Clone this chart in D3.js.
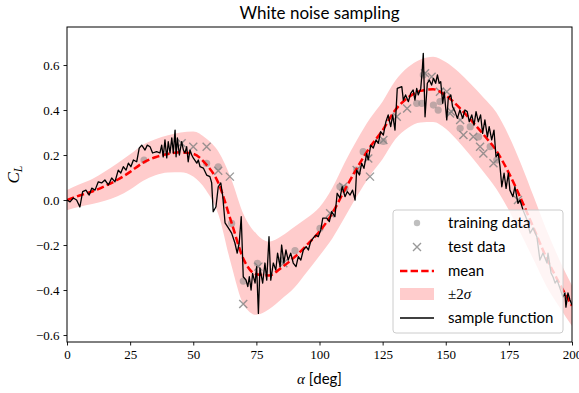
<!DOCTYPE html>
<html><head><meta charset="utf-8">
<script src="https://cdn.jsdelivr.net/npm/d3@7/dist/d3.min.js"></script>
<style>body{margin:0;background:#fff}</style>
</head><body>
<script>
const titleText = "White noise sampling";
const xTicks = [0,25,50,75,100,125,150,175,200];
const yTicks = [-0.6,-0.4,-0.2,0.0,0.2,0.4,0.6];
const meanAlpha = [0,5,10,15,20,25,30,35,40,45,50,55,60,65,70,75,80,85,90,95,100,105,110,115,120,125,130,135,140,145,150,155,160,165,170,175,180,185,190,195,200];
const meanCL = [0.0,0.02,0.038,0.062,0.09,0.125,0.165,0.19,0.205,0.212,0.205,0.16,0.075,-0.095,-0.265,-0.33,-0.335,-0.3,-0.255,-0.2,-0.14,-0.06,0.045,0.145,0.235,0.31,0.4,0.455,0.485,0.492,0.465,0.415,0.355,0.29,0.22,0.12,0.0,-0.13,-0.26,-0.37,-0.47];
const twoSigma = [0.045,0.05,0.056,0.065,0.073,0.078,0.08,0.08,0.083,0.088,0.1,0.115,0.14,0.19,0.2,0.18,0.15,0.14,0.135,0.12,0.108,0.112,0.122,0.125,0.127,0.128,0.13,0.135,0.14,0.145,0.148,0.155,0.16,0.165,0.17,0.165,0.155,0.14,0.125,0.105,0.09];
const sampleFunction = [
[0,0.000],[1.2,-0.008],[2.5,0.009],[3.8,0.000],[5.1,-0.031],[6.2,0.037],[7.5,0.044],[8.8,0.022],[9.8,0.053],[11.1,0.044],
[12.4,0.081],[13.7,0.076],[15.0,0.089],[16.4,0.067],[17.7,0.098],[19.0,0.081],[20.3,0.133],[21.3,0.120],[22.3,0.148],[23.4,0.133],
[24.3,0.164],[25.3,0.148],[26.3,0.178],[27.6,0.170],[28.6,0.231],[29.6,0.244],[30.9,0.222],[31.8,0.244],[32.9,0.237],[33.9,0.209],
[35.5,0.215],[36.8,0.209],[37.5,0.244],[38.1,0.192],[38.8,0.267],[39.5,0.187],[40.1,0.259],[40.8,0.209],[41.5,0.276],[42.1,0.209],
[42.8,0.311],[43.2,0.192],[43.7,0.276],[44.5,0.200],[45.4,0.259],[46.1,0.222],[46.7,0.209],[47.4,0.237],[48.0,0.170],[48.7,0.222],
[49.4,0.200],[50.0,0.187],[51.4,0.164],[52.0,0.178],[52.7,0.148],[54.0,0.142],[55.3,0.111],[56.6,0.104],[57.3,0.076],[57.9,-0.052],
[59.0,-0.030],[59.9,0.059],[60.9,0.076],[61.7,0.015],[62.6,-0.102],[63.9,-0.124],[65.2,-0.147],[66.5,-0.191],[67.4,-0.236],[68.2,-0.191],
[69.0,-0.074],[69.8,-0.341],[70.9,-0.356],[71.6,-0.385],[72.2,-0.341],[72.9,-0.400],[73.5,-0.326],[74.5,-0.369],[75.1,-0.296],[75.8,-0.504],
[76.4,-0.302],[77.5,-0.369],[78.4,-0.280],[79.1,-0.356],[80.0,-0.163],[80.7,-0.356],[81.7,-0.280],[82.7,-0.311],[83.4,-0.236],[84.4,-0.296],
[85.0,-0.200],[85.9,-0.280],[86.7,-0.222],[87.6,-0.267],[88.6,-0.236],[89.6,-0.280],[90.7,-0.296],[91.6,-0.252],[92.6,-0.267],[93.6,-0.222],
[94.7,-0.207],[95.6,-0.222],[96.5,-0.185],[97.5,-0.169],[98.6,-0.156],[99.5,-0.163],[100.5,-0.133],[101.3,-0.080],[102.9,-0.080],[103.9,-0.096],
[104.8,-0.052],[106.1,-0.074],[107.0,0.030],[108.1,0.009],[109.0,0.059],[110.1,0.015],[111.0,0.037],[112.1,0.022],[113.1,0.044],[114.1,0.000],
[114.7,0.133],[115.8,0.111],[116.7,0.163],[117.6,0.141],[118.7,0.207],[119.3,0.178],[120.3,0.244],[121.3,0.231],[122.4,0.267],[123.3,0.252],
[124.2,0.304],[125.3,0.289],[126.3,0.348],[127.2,0.378],[128.2,0.326],[129.0,0.378],[129.9,0.311],[130.8,0.496],[132.6,0.504],[133.2,0.444],
[134.1,0.467],[135.2,0.437],[136.1,0.474],[137.1,0.489],[137.8,0.444],[138.5,0.496],[139.1,0.467],[140.1,0.496],[140.7,0.578],[141.1,0.652],
[141.8,0.370],[142.7,0.519],[143.5,0.533],[144.4,0.511],[145.1,0.541],[146.0,0.519],[146.7,0.556],[147.4,0.519],[148.0,0.526],[148.8,0.430],
[149.4,0.481],[150.4,0.356],[151.0,0.452],[152.0,0.467],[152.7,0.415],[153.7,0.393],[154.6,0.363],[155.6,0.400],[156.7,0.363],[157.6,0.400],
[158.5,0.393],[159.3,0.348],[160.3,0.378],[161.2,0.333],[162.0,0.393],[162.9,0.348],[163.8,0.378],[164.6,0.296],[165.5,0.356],[166.5,0.281],
[167.2,0.326],[168.2,0.267],[169.1,0.311],[169.9,0.192],[170.8,0.207],[171.5,0.148],[172.2,0.059],[173.1,0.119],[173.9,0.052],[174.8,0.119],
[175.4,0.044],[176.6,0.015],[177.4,0.059],[178.6,-0.015],[179.4,0.000],[180.6,-0.044],[182.2,-0.089],[183.4,-0.147],[184.6,-0.124],[186.1,-0.164],
[187.3,-0.267],[188.5,-0.236],[190.1,-0.280],[190.5,-0.236],[191.7,-0.324],[192.5,-0.342],[193.3,-0.369],[194.1,-0.356],[195.2,-0.391],[196.4,-0.431],
[197.2,-0.413],[197.6,-0.476],[198.4,-0.413],[199.2,-0.444],[200,-0.467]
];
const trainAlpha = [30.5,55.3,59.9,65.2,69.8,75.4,85.0,90.3,100.2,108.1,110.1,114.7,117.3,125.3,138.5,140.5,141.1,145.1,147.0,147.7,155.7,159.7,163.0,167.6,170.2];
const trainCL =    [0.178,0.163,0.148,-0.104,-0.36,-0.281,-0.267,-0.225,-0.126,0.059,0.052,0.133,0.215,0.26,0.43,0.43,0.556,0.422,0.40,0.437,0.319,0.326,0.281,0.237,0.178];
const testAlpha = [45.4,50.0,55.3,59.9,64.5,69.8,75.8,85.7,104.2,109.4,114.7,120.0,119.3,125.3,130.6,134.7,141.8,144.4,147.7,150.4,151.7,152.1,155.7,157.0,160.9,163.6,164.9,168.9,178.6];
const testCL =    [0.252,0.237,0.237,0.13,0.104,-0.462,-0.296,-0.281,-0.059,0.059,0.133,0.104,0.185,0.267,0.37,0.407,0.563,0.548,0.481,0.481,0.385,0.393,0.356,0.289,0.281,0.237,0.207,0.163,0.0];
const legendLabels = ["training data","test data","mean","\u00b12\u03c3","sample function"];

const W=579,H=393, L=67,R=572,T=27,B=342;
const svg=d3.select("body").append("svg").attr("width",W).attr("height",H);
const x=d3.scaleLinear().domain([0,200]).range([L,R]);
const y=d3.scaleLinear().domain([-0.631,0.769]).range([B,T]);

svg.append("defs").append("clipPath").attr("id","clip").append("rect")
  .attr("x",L).attr("y",T).attr("width",R-L).attr("height",B-T);
const plot=svg.append("g").attr("clip-path","url(#clip)");

const bandData=meanAlpha.map((a,i)=>({a,m:meanCL[i],s:twoSigma[i]}));
plot.append("path").datum(bandData)
  .attr("d",d3.area().curve(d3.curveMonotoneX).x(d=>x(d.a)).y0(d=>y(d.m-d.s)).y1(d=>y(d.m+d.s)))
  .attr("fill","#ffcccc");

plot.selectAll("circle.tr").data(trainAlpha.map((a,i)=>[a,trainCL[i]])).enter().append("circle")
  .attr("cx",d=>x(d[0])).attr("cy",d=>y(d[1])).attr("r",3.6)
  .attr("fill","#808080").attr("fill-opacity",0.5);

const xs=4;
const te=plot.selectAll("g.te").data(testAlpha.map((a,i)=>[a,testCL[i]])).enter().append("g")
  .attr("transform",d=>`translate(${x(d[0])},${y(d[1])})`);
te.append("path").attr("d",`M${-xs},${-xs}L${xs},${xs}M${-xs},${xs}L${xs},${-xs}`)
  .attr("stroke","#808080").attr("stroke-width",1.4).attr("stroke-opacity",0.8).attr("fill","none");

plot.append("path").datum(bandData)
  .attr("d",d3.line().curve(d3.curveMonotoneX).x(d=>x(d.a)).y(d=>y(d.m)))
  .attr("fill","none").attr("stroke","#ff0000").attr("stroke-width",2.5).attr("stroke-dasharray","7.4,3.2");

plot.append("path").datum(sampleFunction)
  .attr("d",d3.line().x(d=>x(d[0])).y(d=>y(d[1])))
  .attr("fill","none").attr("stroke","#000").attr("stroke-width",1.3).attr("stroke-linejoin","round");

// axes
const sans="'Lato','DejaVu Sans',sans-serif";
const gx=svg.append("g").attr("transform",`translate(0,${B})`)
  .call(d3.axisBottom(x).tickValues(xTicks).tickSize(3.5).tickPadding(4).tickFormat(d3.format("d")));
const gy=svg.append("g").attr("transform",`translate(${L},0)`)
  .call(d3.axisLeft(y).tickValues(yTicks).tickSize(3.5).tickPadding(4).tickFormat(d=>d3.format(".1f")(d).replace("-","\u2212")));
[gx,gy].forEach(g=>{g.select(".domain").remove();
  g.selectAll("text").attr("font-family","'Liberation Serif',serif").attr("font-size",13).attr("fill","#000");
  g.selectAll("line").attr("stroke","#000").attr("stroke-width",0.9);});
svg.append("rect").attr("x",L).attr("y",T).attr("width",R-L).attr("height",B-T)
  .attr("fill","none").attr("stroke","#000").attr("stroke-width",1);

svg.append("text").attr("x",(L+R)/2).attr("y",19).attr("text-anchor","middle")
  .attr("font-family",sans).attr("font-size",17).text(titleText);
const xl=svg.append("text").attr("x",(L+R)/2).attr("y",384).attr("text-anchor","middle").attr("font-size",15);
xl.append("tspan").attr("font-family","'Liberation Serif',serif").attr("font-style","italic").text("\u03b1 ");
xl.append("tspan").attr("font-family",sans).text("[deg]");
const yl=svg.append("text").attr("transform",`translate(19,${(T+B)/2 - 10}) rotate(-90)`).attr("text-anchor","middle")
  .attr("font-family","'Liberation Serif',serif").attr("font-style","italic").attr("font-size",17);
yl.append("tspan").text("C");
yl.append("tspan").attr("font-size",12).attr("dy",3).text("L");

// legend
const lg=svg.append("g");
lg.append("rect").attr("x",393).attr("y",210).attr("width",170).attr("height",123).attr("rx",3)
  .attr("fill","#fff").attr("fill-opacity",0.8).attr("stroke","#cccccc").attr("stroke-width",1);
const rowY=[223,247,271,294,318];
const hx0=400,hx1=434,tx=448;
lg.append("circle").attr("cx",(hx0+hx1)/2).attr("cy",rowY[0]).attr("r",3.2).attr("fill","#808080").attr("fill-opacity",0.5);
lg.append("path").attr("d",`M${(hx0+hx1)/2-4},${rowY[1]-4}L${(hx0+hx1)/2+4},${rowY[1]+4}M${(hx0+hx1)/2-4},${rowY[1]+4}L${(hx0+hx1)/2+4},${rowY[1]-4}`)
  .attr("stroke","#808080").attr("stroke-width",1.4).attr("stroke-opacity",0.8);
lg.append("line").attr("x1",hx0).attr("x2",hx1).attr("y1",rowY[2]).attr("y2",rowY[2])
  .attr("stroke","#ff0000").attr("stroke-width",2.5).attr("stroke-dasharray","7.4,3.2");
lg.append("rect").attr("x",hx0).attr("y",rowY[3]-6).attr("width",hx1-hx0).attr("height",12).attr("fill","#ffcccc");
lg.append("line").attr("x1",hx0).attr("x2",hx1).attr("y1",rowY[4]).attr("y2",rowY[4]).attr("stroke","#000").attr("stroke-width",1.3);
legendLabels.forEach((t,i)=>{
  const tt=lg.append("text").attr("x",tx).attr("y",rowY[i]+5).attr("font-size",15).attr("font-family",sans);
  if(i===3){tt.append("tspan").attr("font-family","'Liberation Serif',serif").text("\u00b12");
    tt.append("tspan").attr("font-family","'Liberation Serif',serif").attr("font-style","italic").text("\u03c3");}
  else tt.text(t);
});
</script>
</body></html>
